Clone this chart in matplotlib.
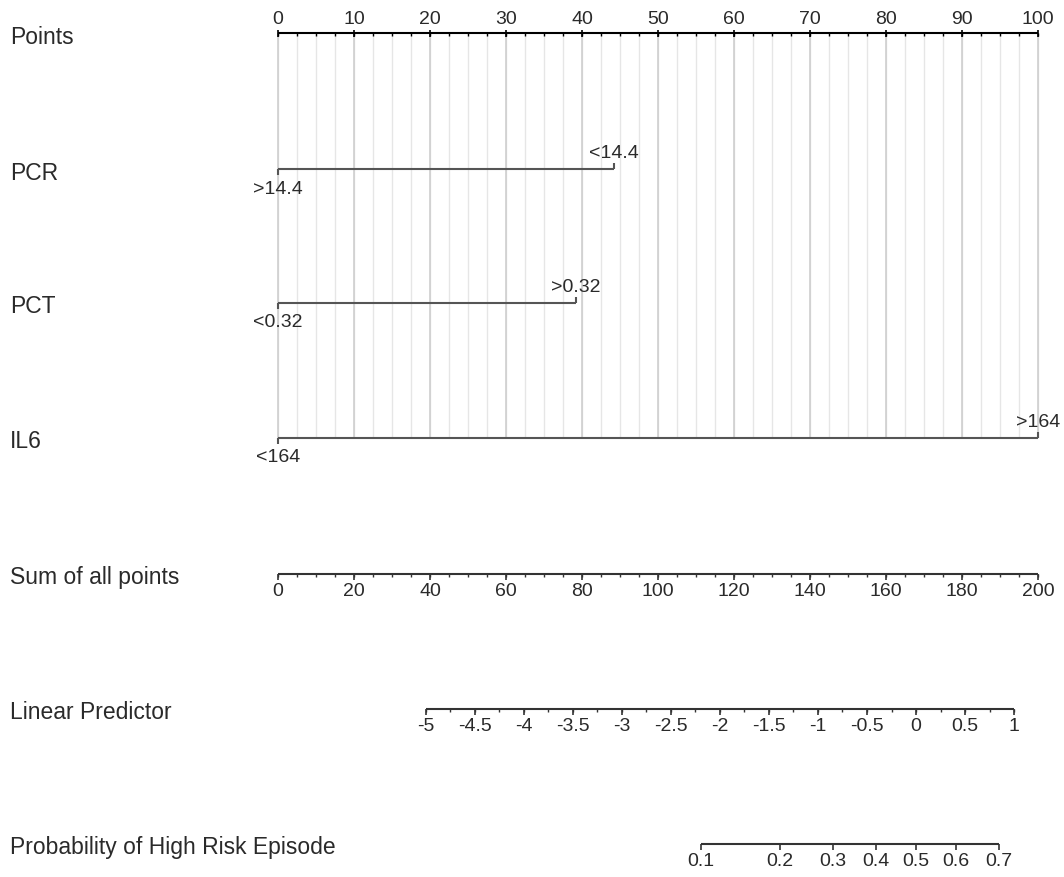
import numpy as np
import matplotlib
matplotlib.use('Agg')
import matplotlib.pyplot as plt
from matplotlib.transforms import blended_transform_factory

plt.rcParams['font.family'] = ['Liberation Sans', 'DejaVu Sans']

# --- data ---
row_names = ['Points', 'PCR', 'PCT', 'IL6', 'Sum of all points',
             'Linear Predictor', 'Probability of High Risk Episode']

points_ticks = np.arange(0, 101, 10)
points_minor = np.arange(0, 100.1, 2.5)

pcr_labels = ['>14.4', '<14.4']
pcr_points = [0, 44.2]
pct_labels = ['<0.32', '>0.32']
pct_points = [0, 39.2]
il6_labels = ['<164', '>164']
il6_points = [0, 100]

total_ticks = np.arange(0, 201, 20)
total_minor = np.arange(0, 201, 5)

lp_ticks = np.arange(-5, 1.01, 0.5)
lp_minor = np.arange(-5, 1.01, 0.25)
lp_zero_total = 167.9   # total points where linear predictor = 0
lp_slope = 25.8         # total points per unit of linear predictor

prob_ticks = [0.1, 0.2, 0.3, 0.4, 0.5, 0.6, 0.7]

# --- layout (pixel rows) ---
row_y = [34, 170, 304, 439, 575, 710, 845]
W, H = 1064, 878
x0_px, x100_px = 278, 1038
px_per_pt = (x100_px - x0_px) / 100.0

ink = '#2a2a2a'
line_col = '#555555'
fs_name = 16.5
fs_tick = 14


def total_to_pts(t):
    return np.asarray(t, dtype=float) / 2.0


def lp_to_pts(lp):
    return total_to_pts(lp_zero_total + np.asarray(lp, dtype=float) * lp_slope)


def prob_to_pts(p):
    p = np.asarray(p, dtype=float)
    return lp_to_pts(np.log(p / (1 - p)))


def fmt(v):
    return '%g' % v


fig = plt.figure(figsize=(W / 100, H / 100), dpi=100)
ax = fig.add_axes([0, 0, 1, 1])
ax.set_xlim(-x0_px / px_per_pt, (W - x0_px) / px_per_pt)
ax.set_ylim(H, 0)
ax.axis('off')

# grid behind the variable rows
ax.vlines(points_minor, row_y[0], row_y[3], color='#e6e6e6', lw=1, zorder=0)
ax.vlines(points_ticks, row_y[0], row_y[3], color='#cfcfcf', lw=1.2, zorder=0)

# row names on the left
tr = blended_transform_factory(ax.transAxes, ax.transData)
for name, y in zip(row_names, row_y):
    ax.text(10 / W, y + 3, name, transform=tr, ha='left', va='center',
            fontsize=fs_name, color=ink)

# Points scale, labels above
y = row_y[0]
ax.hlines(y, 0, 100, color='black', lw=1.5)
ax.vlines(points_ticks, y - 3, y + 4, color='black', lw=1.2)
ax.vlines(points_minor, y, y + 3, color='black', lw=1)
for v in points_ticks:
    ax.text(v, y - 15, fmt(v), ha='center', va='center', fontsize=fs_tick, color=ink)

# variables
for y, pts, labs in zip(row_y[1:4], [pcr_points, pct_points, il6_points],
                        [pcr_labels, pct_labels, il6_labels]):
    ax.hlines(y, min(pts), max(pts), color=line_col, lw=1.5)
    for i, (p, lab) in enumerate(zip(pts, labs)):
        if i % 2 == 0:
            ax.vlines(p, y, y + 6, color=line_col, lw=1.5)
            ax.text(p, y + 19, lab, ha='center', va='center', fontsize=fs_tick, color=ink)
        else:
            ax.vlines(p, y - 6, y, color=line_col, lw=1.5)
            ax.text(p, y - 16, lab, ha='center', va='center', fontsize=fs_tick, color=ink)


def bottom_scale(y, major, labels, minor=None):
    ax.hlines(y, major.min(), major.max(), color='#333333', lw=1.5)
    ax.vlines(major, y, y + 6, color='#333333', lw=1.2)
    if minor is not None:
        ax.vlines(minor, y, y + 3, color='#333333', lw=1)
    for v, lab in zip(major, labels):
        ax.text(v, y + 17, lab, ha='center', va='center', fontsize=fs_tick, color=ink)


bottom_scale(row_y[4], total_to_pts(total_ticks), [fmt(v) for v in total_ticks],
             total_to_pts(total_minor))
bottom_scale(row_y[5], lp_to_pts(lp_ticks), [fmt(round(v, 2)) for v in lp_ticks],
             lp_to_pts(lp_minor))
bottom_scale(row_y[6], prob_to_pts(prob_ticks), [fmt(v) for v in prob_ticks])

fig.savefig('out.png', dpi=100)
